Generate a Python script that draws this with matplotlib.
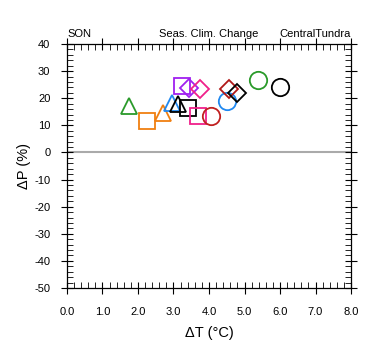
import numpy as np
import matplotlib.pyplot as plt
from matplotlib.ticker import MultipleLocator, FormatStrFormatter

plt.rcParams['font.family'] = ['Liberation Sans', 'DejaVu Sans']
plt.rcParams['axes.unicode_minus'] = False

# seasonal climate change, SON, Central Tundra: (dT, dP) per model run
dT = [1.75, 2.24, 2.71, 2.95, 3.14, 3.23, 3.45, 3.75, 3.40, 3.68, 4.06, 4.50, 4.55, 4.80, 5.37, 6.00]
dP = [17.0, 11.7, 14.6, 18.1, 17.9, 24.5, 23.9, 23.3, 16.5, 13.4, 13.5, 19.1, 23.3, 22.0, 26.7, 24.0]
markers = ['^', 's', '^', '^', '^', 's', 'D', 'D', 's', 's', 'o', 'o', 'D', 'D', 'o', 'o']
colors = ['#2a9a2a', '#f07f10', '#f07f10', '#2088f0', 'black', '#a020f0', '#a020f0', '#f0208a',
          'black', '#f0208a', '#c02020', '#2088f0', '#b01818', 'black', '#2a9a2a', 'black']

fig = plt.figure(figsize=(3.8, 3.55), dpi=100)
ax = fig.add_axes([0.1763, 0.1887, 0.7474, 0.6873])

ax.axhline(0, color='#aaaaaa', lw=1.5, zorder=1)

sizes = {'^': 12, 's': 12, 'D': 9, 'o': 12.5}
for x, y, m, c in zip(dT, dP, markers, colors):
    ax.plot(x, y, marker=m, ms=sizes[m], mfc='none', mec=c, mew=1.3, ls='none', zorder=3)

ax.set_xlim(0, 8)
ax.set_ylim(-50, 40)
ax.xaxis.set_major_locator(MultipleLocator(1))
ax.xaxis.set_minor_locator(MultipleLocator(0.2))
ax.yaxis.set_major_locator(MultipleLocator(10))
ax.yaxis.set_minor_locator(MultipleLocator(2))
ax.xaxis.set_major_formatter(FormatStrFormatter('%.1f'))
ax.tick_params(which='major', direction='inout', length=8, width=0.8, labelsize=8,
               top=True, right=True)
ax.tick_params(axis='x', which='major', pad=10)
ax.tick_params(axis='y', which='major', pad=8)
ax.tick_params(which='minor', direction='in', length=4, width=0.6, top=True, right=True)
for s in ax.spines.values():
    s.set_linewidth(0.9)

ax.set_xlabel('ΔT (°C)', fontsize=10.5, labelpad=6)
ax.set_ylabel('ΔP (%)', fontsize=10.5, labelpad=2)

ax.text(0, 1.02, 'SON', transform=ax.transAxes, ha='left', va='bottom', fontsize=8)
ax.text(0.5, 1.02, 'Seas. Clim. Change', transform=ax.transAxes, ha='center', va='bottom', fontsize=8)
ax.text(1, 1.02, 'CentralTundra', transform=ax.transAxes, ha='right', va='bottom', fontsize=8)

fig.savefig('out.png', dpi=100)
